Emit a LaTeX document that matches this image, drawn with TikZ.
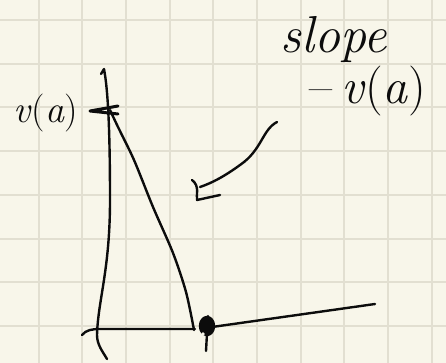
\documentclass[tikz,border=0pt]{standalone}
\definecolor{paper}{RGB}{248,246,234}
\definecolor{gridc}{RGB}{226,223,209}
\definecolor{inkc}{RGB}{12,12,12}
\begin{document}
\begin{tikzpicture}[x=1pt,y=-1pt,
  ink/.style={line width=2.4pt, line cap=round, line join=round, draw=inkc},
  gridline/.style={line width=2pt, draw=gridc},
  lbl/.style={inner sep=0pt, text=inkc}]
\fill[paper] (0,0) rectangle (446,363);
\useasboundingbox (0,0) rectangle (446,363);
\foreach \i in {0,...,9} \draw[gridline] ({38.5+43.7*\i},0) -- ++(0,363);
\foreach \j in {0,...,7} \draw[gridline] (0,{20+43.7*\j}) -- ++(446,0);
% labels
\node[lbl, font=\fontsize{38}{38}\selectfont] (va) at (46,113) {\textit{v}(\textit{a})};
\node[lbl, font=\fontsize{52}{52}\selectfont\itshape] (slope) at (334,40) {slope};
\node[lbl, font=\fontsize{50}{50}\selectfont] (mva) at (368,91) {\textendash\,\textit{v}(\textit{a})};
% vertical axis
\draw[ink] (101,74) -- (104,69) .. controls (108,90) and (110,130) .. (110,200)
  .. controls (110,270) and (98,300) .. (97,335) .. controls (97,345) and (103,352) .. (107,359);
% horizontal axis
\draw[ink] (82,335) .. controls (86,330) and (92,329) .. (100,329) -- (195,329);
\draw[ink] (212,327) -- (375,304);
% falling curve
\draw[ink] plot[smooth] coordinates {(110,110) (118,127) (134,160) (153,207) (173,253) (186,292) (194,330)};
% point on axis
\draw[ink, fill=inkc] (207,326) ellipse (7 and 9);
\fill[paper] (203,334) circle (1.8);
\draw[ink] (208,316) -- (206,351);
% mark at v(a)
\draw[ink, line width=3pt] (118,106) -- (90,111) -- (118,114);
% arrow from slope label
\coordinate (as) at (277,122);
\coordinate (ae) at (200,187);
\draw[ink] (as) .. controls (262,130) and (262,150) .. (240,165) .. controls (225,176) and (212,183) .. (ae);
\draw[ink] (192,180) .. controls (200,186) and (196,195) .. (197,200) -- (220,195);
\end{tikzpicture}
\end{document}
